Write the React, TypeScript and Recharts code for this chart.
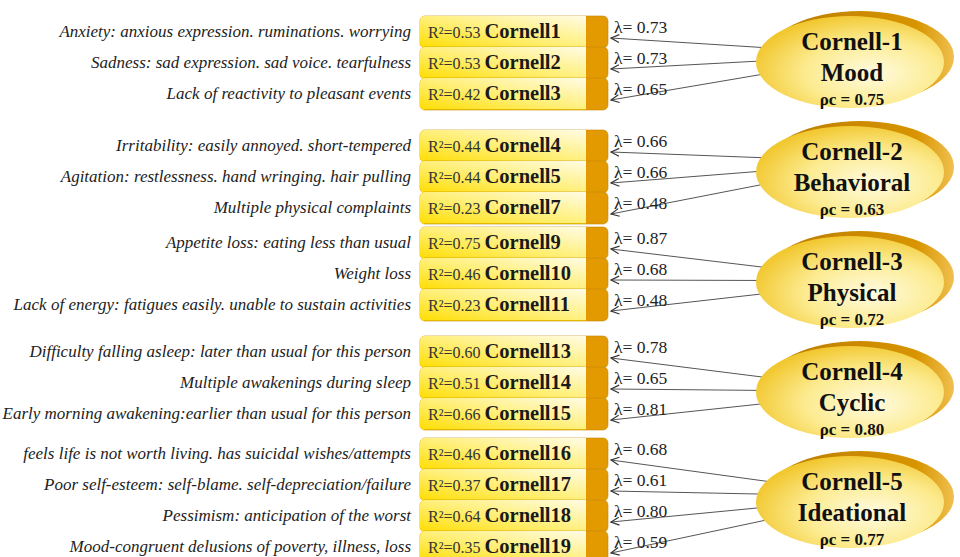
import { ScatterChart, Scatter, XAxis, YAxis } from "recharts"

// latent factors
const FACTOR_CODES = ["Cornell-1", "Cornell-2", "Cornell-3", "Cornell-4", "Cornell-5"]
const FACTOR_NAMES = ["Mood", "Behavioral", "Physical", "Cyclic", "Ideational"]
const FACTOR_RHO = [0.75, 0.63, 0.72, 0.8, 0.77]

// observed items
const ITEM_CODES = [
  "Cornell1", "Cornell2", "Cornell3",
  "Cornell4", "Cornell5", "Cornell7",
  "Cornell9", "Cornell10", "Cornell11",
  "Cornell13", "Cornell14", "Cornell15",
  "Cornell16", "Cornell17", "Cornell18", "Cornell19",
]
const ITEM_LABELS = [
  "Anxiety: anxious expression. ruminations. worrying",
  "Sadness: sad expression. sad voice. tearfulness",
  "Lack of reactivity to pleasant events",
  "Irritability: easily annoyed. short-tempered",
  "Agitation: restlessness. hand wringing. hair pulling",
  "Multiple physical complaints",
  "Appetite loss: eating less than usual",
  "Weight loss",
  "Lack of energy: fatigues easily. unable to sustain activities",
  "Difficulty falling asleep: later than usual for this person",
  "Multiple awakenings during sleep",
  "Early morning awakening:earlier than usual for this person",
  "feels life is not worth living. has suicidal wishes/attempts",
  "Poor self-esteem: self-blame. self-depreciation/failure",
  "Pessimism: anticipation of the worst",
  "Mood-congruent delusions of poverty, illness, loss",
]
const ITEM_FACTOR = [0, 0, 0, 1, 1, 1, 2, 2, 2, 3, 3, 3, 4, 4, 4, 4]
const ITEM_R2 = [0.53, 0.53, 0.42, 0.44, 0.44, 0.23, 0.75, 0.46, 0.23, 0.6, 0.51, 0.66, 0.46, 0.37, 0.64, 0.35]
const ITEM_LAMBDA = [0.73, 0.73, 0.65, 0.66, 0.66, 0.48, 0.87, 0.68, 0.48, 0.78, 0.65, 0.81, 0.68, 0.61, 0.8, 0.59]

// layout
const W = 960
const H = 557
const SERIF = "'Liberation Serif', 'Times New Roman', serif"
const BOX_X = 420
const BOX_W = 188
const STRIP_W = 22
const BOX_H = 32
const FIRST_ROW = 32
const PITCH = 31
const GROUP_GAP = [0, 21, 4, 16, 9]
const ELL_CX = 850
const ELL_RX = 94
const ELL_RY = 46
const ELL_TOP = 62
const ELL_PITCH = 110
const ARROW_END_X = 611

let rowY = FIRST_ROW - PITCH
const items = ITEM_CODES.map((code, i) => {
  const g = ITEM_FACTOR[i]
  rowY += PITCH + (i > 0 && g !== ITEM_FACTOR[i - 1] ? GROUP_GAP[g] : 0)
  return { x: BOX_X, y: rowY, code, label: ITEM_LABELS[i], r2: ITEM_R2[i], g }
})

const factors = FACTOR_CODES.map((code, g) => ({
  x: ELL_CX,
  y: ELL_TOP + g * ELL_PITCH,
  code,
  name: FACTOR_NAMES[g],
  rho: FACTOR_RHO[g],
}))

const arrows = items.map((it, i) => {
  const members = ITEM_FACTOR.map((f, j) => (f === it.g ? j : -1)).filter((j) => j >= 0)
  const k = members.indexOf(i)
  const n = members.length
  const sy = factors[it.g].y + (k - (n - 1) / 2) * 12.5 - 1.5
  const sx = ELL_CX - ELL_RX + 14
  const ey = it.y + 6
  return [
    { x: sx, y: sy, end: false },
    { x: ARROW_END_X, y: ey, end: true, sx, sy, lambda: ITEM_LAMBDA[i] },
  ]
})

const leftRounded = (x: number, y: number, w: number, h: number, r: number) =>
  `M ${x + r} ${y} H ${x + w} V ${y + h} H ${x + r} Q ${x} ${y + h} ${x} ${y + h - r} V ${y + r} Q ${x} ${y} ${x + r} ${y} Z`

const ItemBox = (props: any) => {
  const { cx, cy, payload } = props
  const top = cy - BOX_H / 2
  const yw = BOX_W - STRIP_W
  return (
    <g>
      <text x={cx - 9} y={cy + 5} textAnchor="end" fontFamily={SERIF} fontStyle="italic" fontSize={17} fill="#222">
        {payload.label}
      </text>
      <rect x={cx} y={top} width={BOX_W} height={BOX_H} rx={5} fill="#E29A00" stroke="#C98800" strokeWidth={0.6} />
      <path d={leftRounded(cx, top, yw, BOX_H, 5)} fill="url(#boxFill)" />
      <line x1={cx + 4} x2={cx + yw} y1={top + BOX_H - 0.5} y2={top + BOX_H - 0.5} stroke="#E3B800" strokeWidth={1} />
      <text x={cx + 8} y={cy + 6} fontFamily={SERIF} fill="#1a1a1a">
        <tspan fontSize={16} fill="#333">R²={payload.r2.toFixed(2)} </tspan>
        <tspan fontSize={20.5} fontWeight="bold">{payload.code}</tspan>
      </text>
    </g>
  )
}

const FactorEllipse = (props: any) => {
  const { cx, cy, payload } = props
  return (
    <g>
      <ellipse cx={cx + 10} cy={cy - 5} rx={ELL_RX} ry={ELL_RY} fill="url(#shadowFill)" />
      <ellipse cx={cx} cy={cy} rx={ELL_RX} ry={ELL_RY} fill="url(#ellFill)" />
      <text x={cx + 2} y={cy - 12} textAnchor="middle" fontFamily={SERIF} fontWeight="bold" fontSize={25} fill="#111">
        {payload.code}
      </text>
      <text x={cx + 2} y={cy + 19} textAnchor="middle" fontFamily={SERIF} fontWeight="bold" fontSize={25} fill="#111">
        {payload.name}
      </text>
      <text x={cx + 2} y={cy + 43} textAnchor="middle" fontFamily={SERIF} fontWeight="bold" fontSize={17} fill="#111">
        ρc = {payload.rho.toFixed(2)}
      </text>
    </g>
  )
}

const ArrowHead = (props: any) => {
  const { cx, cy, payload } = props
  if (!payload.end) return <g />
  const ang = Math.atan2(payload.sy - payload.y, payload.sx - payload.x)
  const len = 9
  const a1 = ang + 0.45
  const a2 = ang - 0.45
  return (
    <g>
      <path
        d={`M ${cx + len * Math.cos(a1)} ${cy + len * Math.sin(a1)} L ${cx} ${cy} L ${cx + len * Math.cos(a2)} ${cy + len * Math.sin(a2)}`}
        fill="none"
        stroke="#333"
        strokeWidth={1.2}
      />
      <text x={cx + 3} y={cy - 5} fontFamily={SERIF} fontSize={17.5} fill="#222">
        λ= {payload.lambda.toFixed(2)}
      </text>
    </g>
  )
}

export default function App() {
  return (
    <div style={{ position: "absolute", left: 0, top: 0, width: W, height: H, background: "#fff" }}>
      <ScatterChart width={W} height={H} margin={{ top: 0, right: 0, bottom: 0, left: 0 }}>
        <defs>
          <linearGradient id="boxFill" x1="0" y1="1" x2="1" y2="0">
            <stop offset="0%" stopColor="#FFDD00" />
            <stop offset="45%" stopColor="#FFEE70" />
            <stop offset="100%" stopColor="#FFFCE6" />
          </linearGradient>
          <radialGradient id="ellFill" cx="62%" cy="62%" r="65%">
            <stop offset="0%" stopColor="#FFFBE0" />
            <stop offset="55%" stopColor="#FCEB90" />
            <stop offset="100%" stopColor="#F2C830" />
          </radialGradient>
          <linearGradient id="shadowFill" x1="0" y1="0" x2="1" y2="0">
            <stop offset="0%" stopColor="#B77A00" />
            <stop offset="80%" stopColor="#D89400" />
            <stop offset="100%" stopColor="#F0C050" />
          </linearGradient>
        </defs>
        <XAxis type="number" dataKey="x" domain={[0, W]} hide />
        <YAxis type="number" dataKey="y" domain={[0, H]} reversed hide />
        {arrows.map((a, i) => (
          <Scatter
            key={`arrow-${i}`}
            data={a}
            line={{ stroke: "#555", strokeWidth: 1 }}
            shape={ArrowHead}
            isAnimationActive={false}
          />
        ))}
        <Scatter data={items} shape={ItemBox} isAnimationActive={false} />
        <Scatter data={factors} shape={FactorEllipse} isAnimationActive={false} />
      </ScatterChart>
    </div>
  )
}
